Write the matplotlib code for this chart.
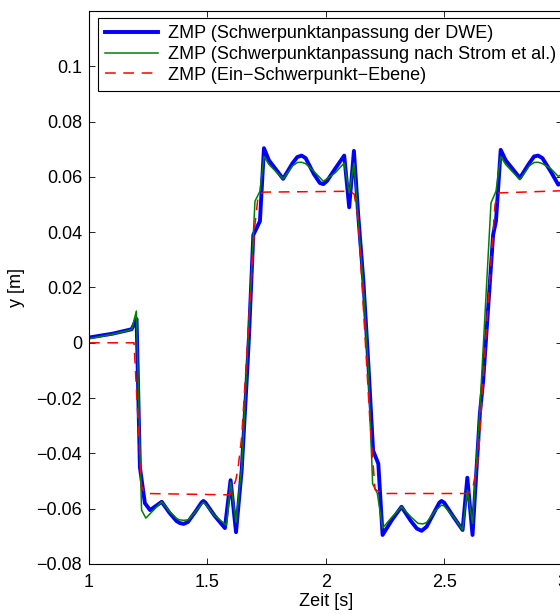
import matplotlib
matplotlib.use("Agg")
import matplotlib.pyplot as plt

plt.rcParams['font.family'] = ['Liberation Sans', 'DejaVu Sans']
plt.rcParams['font.size'] = 13

# ZMP (Schwerpunktanpassung der DWE)
t_dwe = [1.00, 1.10, 1.18, 1.201, 1.215, 1.236, 1.258, 1.307, 1.34, 1.37, 1.384, 1.40, 1.418,
         1.45, 1.475, 1.483, 1.492, 1.53, 1.574, 1.598, 1.621, 1.645, 1.666, 1.675, 1.694,
         1.722, 1.739, 1.76, 1.82, 1.86, 1.88, 1.898, 1.915, 1.95, 1.975, 1.99, 2.005,
         2.04, 2.078, 2.099, 2.119, 2.137, 2.159, 2.18, 2.20, 2.222, 2.24, 2.28, 2.32,
         2.36, 2.385, 2.405, 2.426, 2.46, 2.48, 2.489, 2.50, 2.54, 2.578, 2.598, 2.62,
         2.651, 2.665, 2.707, 2.719, 2.739, 2.76, 2.82, 2.86, 2.88, 2.897, 2.915, 2.95,
         2.982, 3.00]
y_dwe = [0.0019, 0.0033, 0.0049, 0.0086, -0.045, -0.058, -0.0605, -0.0575, -0.0615, -0.0645,
         -0.0652, -0.0655, -0.0648, -0.061, -0.0578, -0.0572, -0.0578, -0.0625, -0.067, -0.0497,
         -0.0685, -0.046, -0.0137, 0.001, 0.039, 0.044, 0.0704, 0.066, 0.0593, 0.065, 0.0672,
         0.0677, 0.0668, 0.061, 0.0578, 0.0574, 0.0585, 0.063, 0.0677, 0.049, 0.0694, 0.0464,
         0.0223, -0.0077, -0.039, -0.0437, -0.0695, -0.064, -0.0593, -0.0645, -0.0672, -0.068,
         -0.0665, -0.061, -0.0578, -0.0572, -0.0578, -0.063, -0.0677, -0.0488, -0.0695, -0.0256,
         -0.0137, 0.0391, 0.044, 0.0698, 0.066, 0.0596, 0.065, 0.0674, 0.0677, 0.0668, 0.062,
         0.0572, 0.058]

# ZMP (Schwerpunktanpassung nach Strom et al.)
t_strom = [1.00, 1.10, 1.18, 1.20, 1.222, 1.24, 1.307, 1.34, 1.37, 1.38, 1.40, 1.42, 1.45,
           1.481, 1.49, 1.53, 1.581, 1.598, 1.621, 1.645, 1.666, 1.701, 1.722, 1.739, 1.76,
           1.82, 1.86, 1.88, 1.898, 1.915, 1.95, 1.99, 2.04, 2.078, 2.099, 2.119, 2.137,
           2.159, 2.18, 2.198, 2.218, 2.24, 2.28, 2.32, 2.36, 2.39, 2.41, 2.426, 2.46, 2.489,
           2.50, 2.54, 2.578, 2.598, 2.62, 2.651, 2.698, 2.719, 2.739, 2.76, 2.82, 2.86,
           2.88, 2.897, 2.915, 2.95, 2.982, 3.00]
y_strom = [0.0015, 0.0031, 0.0048, 0.0115, -0.0605, -0.0634, -0.0575, -0.061, -0.0635, -0.064,
           -0.0642, -0.064, -0.061, -0.0578, -0.0582, -0.0625, -0.066, -0.0504, -0.065, -0.045,
           -0.010, 0.0512, 0.0548, 0.0674, 0.0645, 0.0593, 0.064, 0.0652, 0.0653, 0.0648, 0.062,
           0.0584, 0.0615, 0.065, 0.0542, 0.065, 0.045, 0.020, -0.010, -0.051, -0.0545, -0.067,
           -0.063, -0.0593, -0.063, -0.0653, -0.0655, -0.065, -0.061, -0.0587, -0.059, -0.063,
           -0.0677, -0.0533, -0.0653, -0.024, 0.0506, 0.0548, 0.0674, 0.0645, 0.059, 0.064,
           0.0652, 0.0653, 0.0648, 0.063, 0.0602, 0.061]

# ZMP (Ein-Schwerpunkt-Ebene)
t_ebene = [1.00, 1.19, 1.222, 1.236, 1.595, 1.62, 1.63, 1.645, 1.666, 1.70, 1.715, 1.74,
           2.10, 2.12, 2.137, 2.187, 2.208, 2.24, 2.60, 2.62, 2.645, 2.66, 2.69, 2.715,
           2.73, 3.00]
y_ebene = [0.0, 0.0, -0.052, -0.0545, -0.055, -0.0497, -0.045, -0.034, -0.005, 0.042, 0.0536,
           0.0545, 0.0548, 0.0538, 0.045, -0.029, -0.053, -0.0545, -0.0545, -0.0533, -0.041,
           -0.020, 0.020, 0.050, 0.0542, 0.055]

labels = ['ZMP (Schwerpunktanpassung der DWE)',
          'ZMP (Schwerpunktanpassung nach Strom et al.)',
          'ZMP (Ein\u2212Schwerpunkt\u2212Ebene)']

fig = plt.figure(figsize=(5.6, 6.14), dpi=100)
ax = fig.add_axes([89 / 560, 1 - 564 / 614, 473.5 / 560, 553 / 614])

ax.plot(t_dwe, y_dwe, color='#0000ff', linewidth=2.8, label=labels[0])
ax.plot(t_strom, y_strom, color='#008000', linewidth=1.1, label=labels[1])
ax.plot(t_ebene, y_ebene, color='#ff0000', linewidth=1.1, linestyle=(0, (7, 5)), label=labels[2])

ax.set_xlim(1, 3)
ax.set_ylim(-0.08, 0.12)
ax.set_xticks([1, 1.5, 2, 2.5, 3])
ax.set_xticklabels(['1', '1.5', '2', '2.5', '3'])
ax.set_yticks([-0.08, -0.06, -0.04, -0.02, 0, 0.02, 0.04, 0.06, 0.08, 0.1])
ax.set_yticklabels(['\u22120.08', '\u22120.06', '\u22120.04', '\u22120.02', '0',
                    '0.02', '0.04', '0.06', '0.08', '0.1'])
ax.tick_params(direction='in', length=4, width=0.6, top=True, right=True, labelsize=13)
ax.tick_params(axis='x', pad=7)
ax.tick_params(axis='y', pad=5)
for s in ax.spines.values():
    s.set_linewidth(0.8)

ax.set_xlabel('Zeit [s]', labelpad=2)
ax.set_ylabel('y [m]', labelpad=8)

leg = ax.legend(loc='upper left', bbox_to_anchor=(0.019, 0.987), borderaxespad=0,
                fancybox=False, framealpha=1, edgecolor='black', handlelength=2.9,
                handletextpad=0.55, labelspacing=0.2, borderpad=0.4, fontsize=13)
leg.get_frame().set_linewidth(0.8)

fig.savefig('out.png', dpi=100)
